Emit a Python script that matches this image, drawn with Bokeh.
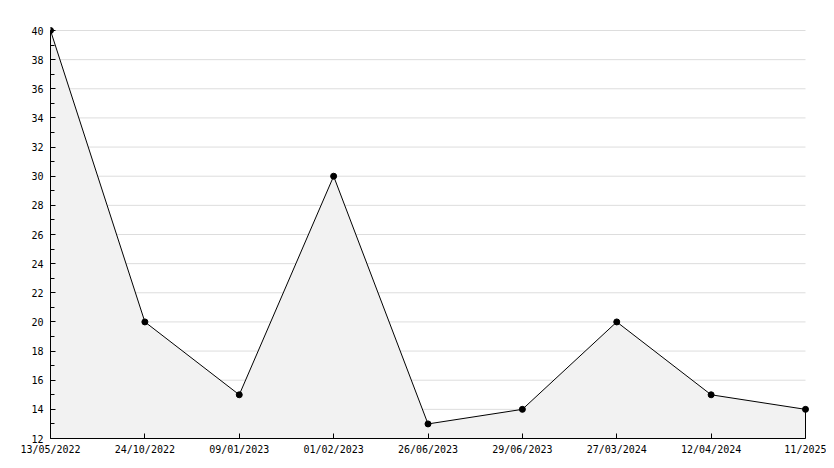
from bokeh.plotting import figure
from bokeh.models import Range1d, FixedTicker
from bokeh.embed import file_html
from bokeh.resources import INLINE

dates = ["13/05/2022", "24/10/2022", "09/01/2023", "01/02/2023", "26/06/2023",
         "29/06/2023", "27/03/2024", "12/04/2024", "11/2025"]
values = [40, 20, 15, 30, 13, 14, 20, 15, 14]
y_min, y_max = 12, 40
y_major = list(range(12, 41, 2))
y_minor = list(range(13, 40, 2))

xs = list(range(len(values)))
n = len(values) - 1

# small headroom so the end markers are not clipped by the frame
pad_px = 4
y_end = y_max + pad_px * (y_max - y_min) / 408
x_end = n + pad_px * n / 755

p = figure(width=826, height=460, output_backend="svg", toolbar_location=None,
           x_range=Range1d(0, x_end), y_range=Range1d(y_min, y_end),
           min_border_left=50, min_border_right=21 - pad_px,
           min_border_top=30 - pad_px, min_border_bottom=22)
p.outline_line_color = None
p.background_fill_color = "white"
p.border_fill_color = "white"
p.xgrid.visible = False
p.ygrid.visible = False

# horizontal grid lines at the major ticks, spanning the data extent
p.segment(x0=[0] * len(y_major), x1=[n] * len(y_major), y0=y_major, y1=y_major,
          line_color="#dddddd", line_width=1)

p.varea(x=xs, y1=[y_min] * len(xs), y2=values, fill_color="#f2f2f2")
p.line(x=[xs[0]] + xs + [xs[-1]], y=[y_min] + values + [y_min], line_color="black", line_width=1)
p.scatter(x=xs, y=values, size=6, marker="circle", fill_color="black", line_color="black")

p.xaxis.ticker = FixedTicker(ticks=xs)
p.xaxis.major_label_overrides = {i: d for i, d in enumerate(dates)}
p.xaxis.bounds = (0, n)
p.yaxis.ticker = FixedTicker(ticks=y_major, minor_ticks=y_minor)
p.yaxis.bounds = (y_min, y_max)

for ax in (p.xaxis[0], p.yaxis[0]):
    ax.axis_line_color = "black"
    ax.axis_line_width = 1
    ax.major_tick_in = 5
    ax.major_tick_out = 0
    ax.minor_tick_in = 4
    ax.minor_tick_out = 0
    ax.major_tick_line_color = "black"
    ax.minor_tick_line_color = "black"
    ax.major_label_text_font = "DejaVu Sans Mono"
    ax.major_label_text_font_size = "10px"
    ax.major_label_text_color = "black"
p.yaxis.major_label_standoff = 7
p.xaxis.minor_tick_line_color = None
p.xaxis.major_label_standoff = 5

with open("out.html", "w") as f:
    f.write(file_html(p, INLINE))
